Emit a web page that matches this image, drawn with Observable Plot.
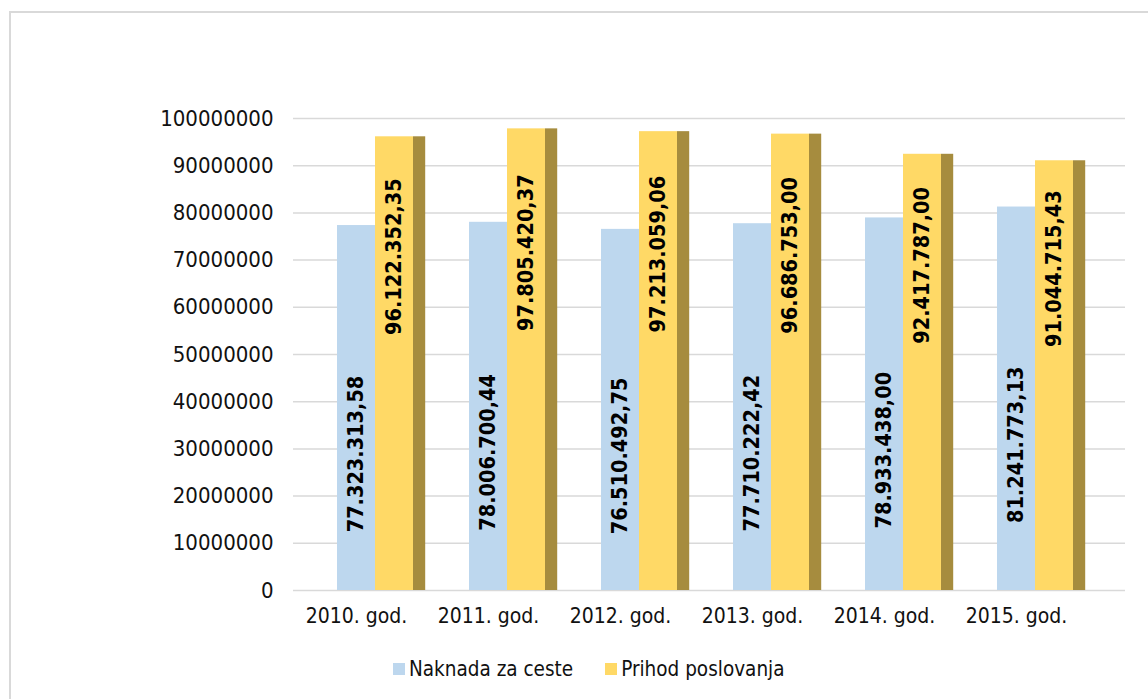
<!DOCTYPE html>
<html>
<head>
<meta charset="utf-8">
<script src="https://cdn.jsdelivr.net/npm/d3@7"></script>
<script src="https://cdn.jsdelivr.net/npm/@observablehq/plot@0.6"></script>
<style>
  html, body { margin: 0; padding: 0; background: #fff; }
  body { width: 1148px; height: 699px; overflow: hidden; position: relative;
         font-family: "DejaVu Sans Condensed", "DejaVu Sans", "Liberation Sans", sans-serif; }
  #frame { position: absolute; left: 9px; top: 11px; width: 1200px; height: 800px;
           border: 2px solid #d9d9d9; box-sizing: border-box; }
  #chart { position: absolute; left: 0; top: 0; }
  #legend { position: absolute; left: 393px; top: 657px; display: flex; align-items: center;
            font-size: 20.5px; color: #111; }
  .item { display: flex; align-items: center; margin-right: 32px; }
  .sw { width: 12px; height: 12px; margin-right: 4px; }
</style>
</head>
<body>
<div id="frame"></div>
<div id="chart"></div>
<div id="legend"></div>
<script>
const years = ["2010. god.", "2011. god.", "2012. god.", "2013. god.", "2014. god.", "2015. god."];
const seriesNames = ["Naknada za ceste", "Prihod poslovanja"];
const naknada = [77323313.58, 78006700.44, 76510492.75, 77710222.42, 78933438.00, 81241773.13];
const prihod = [96122352.35, 97805420.37, 97213059.06, 96686753.00, 92417787.00, 91044715.43];
const yTicks = [0, 10000000, 20000000, 30000000, 40000000, 50000000, 60000000, 70000000, 80000000, 90000000, 100000000];
const colors = ["#bdd7ee", "#ffd966"];
const sideColor = "#a68c3e";

const hr = d3.formatLocale({decimal: ",", thousands: ".", grouping: [3], currency: ["", ""]});
const fmt = hr.format(",.2f");

const rowsN = years.map((year, i) => ({year, value: naknada[i]}));
const rowsP = years.map((year, i) => ({year, value: prihod[i]}));

const font = "'DejaVu Sans Condensed', 'DejaVu Sans', 'Liberation Sans', sans-serif";

const chart = Plot.plot({
  width: 1148,
  height: 640,
  marginLeft: 293,
  marginRight: 23,
  marginTop: 118,
  marginBottom: 50,
  style: {fontFamily: font, background: "transparent", color: "#111"},
  x: {domain: years, range: [293, 1090], padding: 0, label: null},
  y: {domain: [0, 100000000], label: null},
  marks: [
    Plot.gridY(yTicks, {stroke: "#d9d9d9", strokeOpacity: 1, strokeWidth: 1.5}),
    Plot.axisY(yTicks, {tickSize: 0, tickPadding: 20, fontSize: 22, tickFormat: d => String(d), fill: "#111", label: null}),
    Plot.axisX({tickSize: 0, tickPadding: 18, fontSize: 21, dx: -6, fill: "#111", label: null}),
    Plot.barY(rowsN, {x: "year", y: "value", fill: colors[0], insetLeft: 41, insetRight: 53}),
    Plot.barY(rowsP, {x: "year", y: "value", fill: colors[1], insetLeft: 79, insetRight: 15}),
    Plot.barY(rowsP, {x: "year", y: "value", fill: sideColor, insetLeft: 117, insetRight: 2.8}),
    Plot.text(rowsN, {x: "year", y: d => d.value / 2, text: d => fmt(d.value), rotate: -90,
      dx: -6.4, dy: 46, fontWeight: "bold", fontSize: 21.5, fill: "#000"}),
    Plot.text(rowsP, {x: "year", y: d => d.value / 2, text: d => fmt(d.value), rotate: -90,
      dx: 31.6, dy: -107, fontWeight: "bold", fontSize: 21.5, fill: "#000"})
  ]
});
document.getElementById("chart").appendChild(chart);

const legend = document.getElementById("legend");
seriesNames.forEach((name, i) => {
  const item = document.createElement("div");
  item.className = "item";
  const sw = document.createElement("span");
  sw.className = "sw";
  sw.style.background = colors[i];
  const label = document.createElement("span");
  label.textContent = name;
  item.appendChild(sw);
  item.appendChild(label);
  legend.appendChild(item);
});
</script>
</body>
</html>
